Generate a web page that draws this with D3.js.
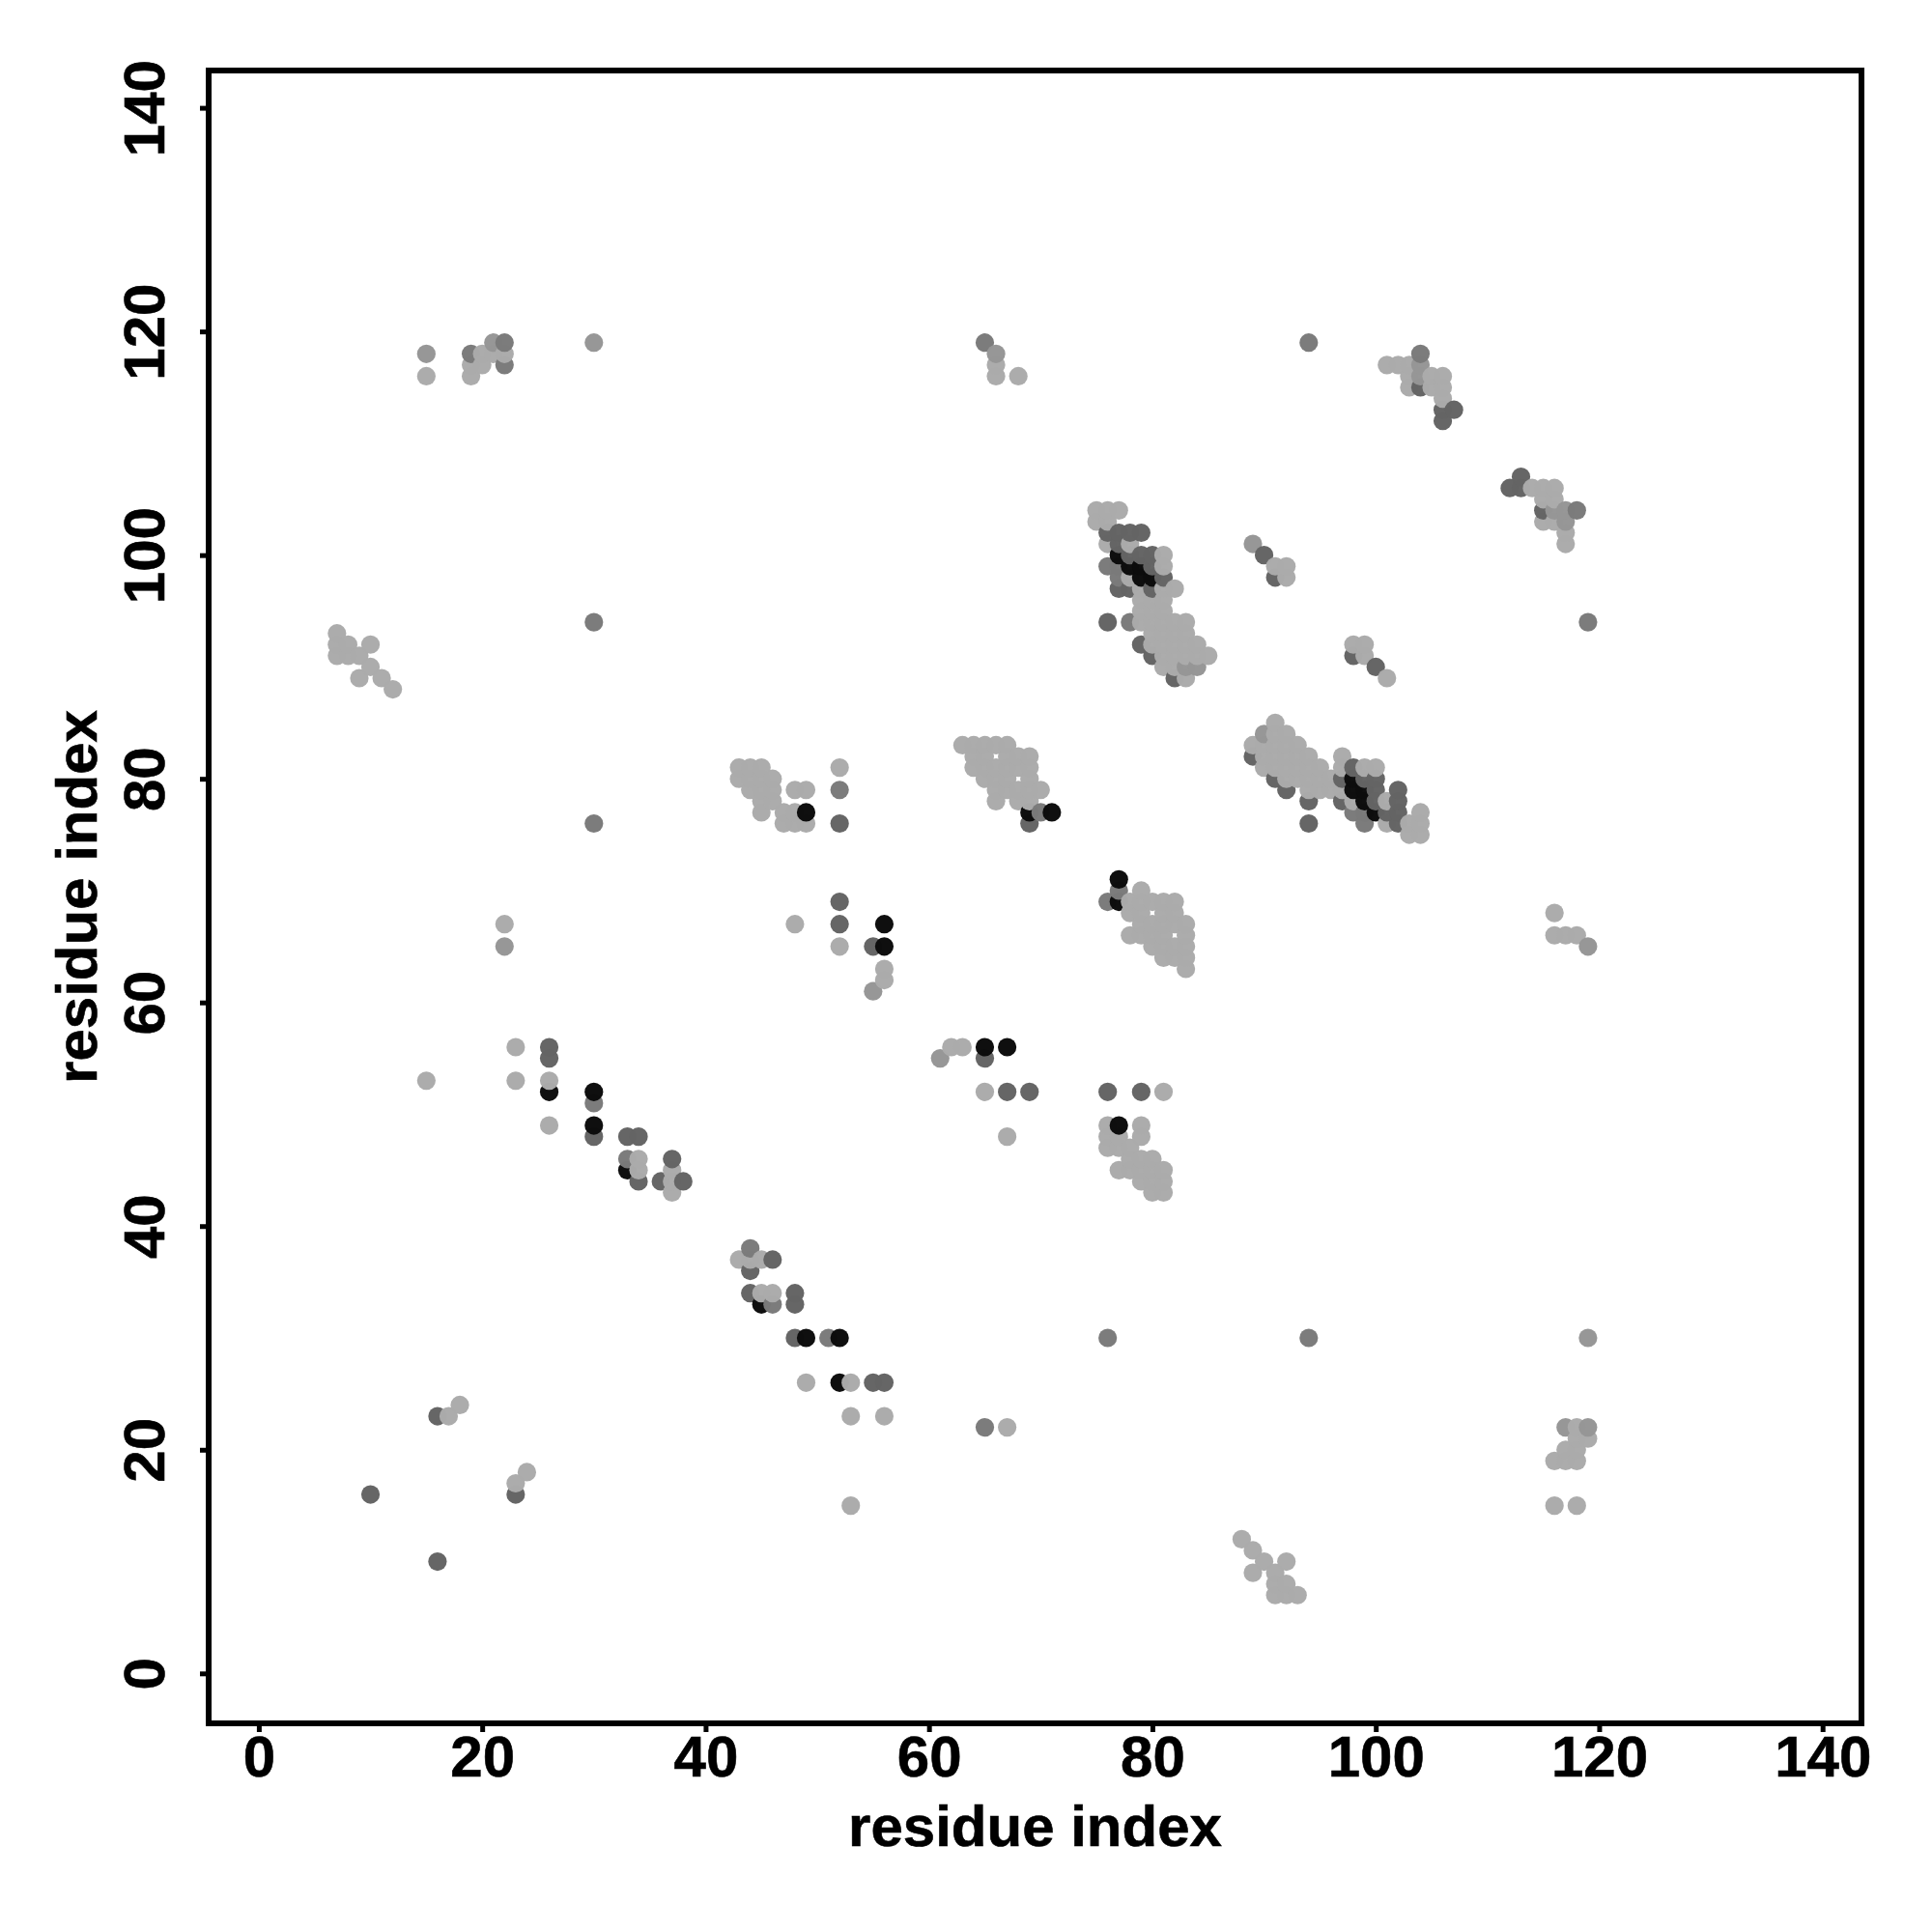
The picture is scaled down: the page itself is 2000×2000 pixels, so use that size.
<!DOCTYPE html>
<html><head><meta charset="utf-8">
<script src="https://cdn.jsdelivr.net/npm/d3@7/dist/d3.min.js"></script>
<style>html,body{margin:0;padding:0;background:#fff}svg{display:block}text{font-family:"Liberation Sans",Arial,sans-serif;font-weight:700;fill:#000;stroke:#000;stroke-width:0.6px}</style>
</head><body><script>
const tickLabels = [0, 20, 40, 60, 80, 100, 120, 140];
const axisTitle = "residue index";
const shades = { light: "#ababab", midLight: "#969696", mid: "#7a7a7a", dark: "#646464", black: "#0c0c0c" };

const lightContacts = [
 [17,23],[18,24],[23,17],[24,18],[53,15],[67,22],[116,15],[118,15],[116,19],[117,19],[118,19],[118,20],[117,20],[118,22],[118,21],[119,21],
 [88,12],[89,11],[90,10],[92,10],[89,9],[91,9],[92,8],[91,8],[91,7],[92,7],[93,7],
 [43,37],[44,37],[45,37],[45,34],[46,34],[49,26],[53,26],[53,23],[56,23],
 [26,53],[26,49],[34,46],[34,45],[37,45],[37,44],[37,43],
 [22,67],[23,56],[23,53],[15,53],[15,116],[19,117],[20,118],[20,117],[21,118],[22,118],[19,116],
 [7,93],[7,92],[7,91],[8,92],[8,91],[9,91],[10,92],[10,90],[9,89],[11,89],[12,88],
 [43,81],[44,81],[45,81],[43,80],[44,80],[45,80],[46,80],[44,79],[45,79],[46,79],[48,79],[49,79],[45,78],[46,78],[45,77],[47,77],[48,77],[47,76],[48,76],[49,76],[52,81],
 [63,83],[64,83],[65,83],[66,83],[67,83],[64,82],[65,82],[67,82],[68,82],[69,82],[64,81],[65,81],[66,81],[67,81],[68,81],[69,81],[65,80],[66,80],[67,80],[69,80],[66,79],[67,79],[68,79],[69,79],[70,79],[66,78],[68,78],[69,78],
 [79,70],[78,69],[79,69],[80,69],[81,69],[82,69],[78,68],[79,68],[81,68],[82,68],[79,67],[80,67],[81,67],[82,67],[83,67],[78,66],[79,66],[80,66],[81,66],[83,66],[80,65],[81,65],[82,65],[83,65],[81,64],[82,64],[83,64],[83,63],
 [76,49],[76,48],[77,48],[76,47],[77,47],[78,47],[79,49],[79,48],[78,46],[79,46],[80,46],[77,45],[78,45],[79,45],[80,45],[81,45],[79,44],[80,44],[81,44],[80,43],[81,43],
 [65,52],[81,52],[62,56],[63,56],[67,48],[48,67],[52,65],[56,63],[56,62],[116,68],[116,66],[117,66],[118,66],
 [66,117],[66,116],[68,116],[101,117],[102,117],[103,117],[103,116],[105,116],[106,116],[103,115],[105,115],[106,115],[106,114],
 [114,106],[115,106],[116,106],[115,105],[116,105],[115,103],[116,103],[117,102],[117,101],
 [75,104],[76,104],[77,104],[75,103],[76,103],[76,101],[78,101],[81,100],[81,99],[78,98],[79,97],[81,97],[82,97],[79,96],[80,96],[81,96],[79,95],[80,95],[81,95],[79,94],[80,94],[81,94],[82,94],[83,94],[80,93],[81,93],[82,93],[83,93],[80,92],[81,92],[82,92],[83,92],[84,92],[81,91],[82,91],[83,91],[84,91],[85,91],[81,90],[82,90],[83,89],
 [91,85],[91,84],[92,84],[89,83],[90,83],[91,83],[92,83],[93,83],[90,82],[91,82],[92,82],[93,82],[94,82],[97,82],[90,81],[91,81],[92,81],[93,81],[94,81],[95,81],[97,81],[99,81],[100,81],[92,80],[93,80],[94,80],[95,80],[96,80],[94,79],[95,79],[96,79],[97,79],[98,78],[101,78],[104,77],[101,76],[103,76],[104,76],[103,75],[104,75],
 [91,99],[92,99],[92,98],[98,92],[99,92],[99,91],[101,89]
];
const midLightContacts = [
 [119,30],[117,22],[119,22],[15,118],[30,119],[61,55],[22,65],[55,61],[66,118],[119,65],[89,101],[90,84],[83,90],[84,90],[116,104],[117,104],[117,103],[104,117],[104,116],[21,119]
];
const midContacts = [
 [76,30],[94,30],[65,22],[33,46],[44,38],[51,30],[30,51],[46,33],[19,118],[22,117],[22,119],[30,94],[30,76],[94,119],[65,119],[118,104],[104,118],
 [76,99],[77,99],[77,98],[78,94],[98,77],[99,77],[99,76],[52,79],[119,94],[70,77],[77,70],[76,69]
];
const darkContacts = [
 [10,16],[16,10],[16,23],[23,16],[44,36],[44,34],[46,37],[48,34],[48,33],[48,30],[55,26],[56,26],
 [26,56],[26,55],[30,48],[33,48],[34,48],[34,44],[37,46],[36,44],[38,44],
 [52,76],[69,76],[52,69],[52,67],[55,65],[76,52],[79,52],[67,52],[69,52],[65,55],
 [104,115],[106,113],[107,113],[106,112],[113,107],[112,106],[113,106],[115,104],
 [76,102],[77,102],[78,102],[79,102],[77,101],[78,100],[79,100],[80,100],[80,99],[81,98],[77,97],[78,97],[80,97],[76,94],[79,92],[80,91],[82,89],
 [89,82],[98,81],[91,80],[97,80],[99,80],[100,80],[92,79],[100,79],[102,79],[94,78],[97,78],[100,78],[102,78],[101,77],[102,77],[94,76],[102,76],
 [90,100],[91,98],[98,91],[100,90]
];
const blackContacts = [
 [45,33],[49,30],[52,30],[52,26],[26,52],[30,52],[30,49],[33,45],[49,77],[69,77],[71,77],[56,67],[56,65],[65,56],[67,56],[77,71],[77,69],[77,49],
 [77,100],[78,99],[79,99],[79,98],[80,98],[98,80],[98,79],[99,79],[99,78],[100,77]
];

const contacts = [
 ...lightContacts.map(d => ({x:d[0], y:d[1], fill:shades.light})),
 ...midLightContacts.map(d => ({x:d[0], y:d[1], fill:shades.midLight})),
 ...midContacts.map(d => ({x:d[0], y:d[1], fill:shades.mid})),
 ...darkContacts.map(d => ({x:d[0], y:d[1], fill:shades.dark})),
 ...blackContacts.map(d => ({x:d[0], y:d[1], fill:shades.black}))
].sort((a,b) => d3.ascending(a.x,b.x) || d3.ascending(a.y,b.y));

const box = {left:216, right:1927, top:73, bottom:1784};
const xScale = d3.scaleLinear().domain([0,140]).range([267.9,1886.7]);
const yScale = d3.scaleLinear().domain([0,140]).range([1732.3,111.6]);

const svg = d3.select("body").append("svg").attr("width",2000).attr("height",2000);
svg.append("rect").attr("width",2000).attr("height",2000).attr("fill","#fff");

svg.append("g").selectAll("circle").data(contacts).join("circle")
  .attr("cx",d=>xScale(d.x)).attr("cy",d=>yScale(d.y)).attr("r",9.6).attr("fill",d=>d.fill).attr("fill-opacity",0.99);

svg.append("rect").attr("x",box.left).attr("y",box.top)
  .attr("width",box.right-box.left).attr("height",box.bottom-box.top)
  .attr("fill","none").attr("stroke","#000").attr("stroke-width",6);

const gx = svg.append("g").attr("transform",`translate(0,${box.bottom})`)
  .call(d3.axisBottom(xScale).tickValues(tickLabels).tickSize(9).tickPadding(0));
gx.select(".domain").remove();
gx.selectAll("line").attr("stroke","#000").attr("stroke-width",5);
gx.selectAll("text").attr("font-size",60).attr("y",0).attr("dy",0).attr("transform","translate(0,55)");

const gy = svg.append("g").attr("transform",`translate(${box.left},0)`)
  .call(d3.axisLeft(yScale).tickValues(tickLabels).tickSize(9).tickPadding(0));
gy.select(".domain").remove();
gy.selectAll("line").attr("stroke","#000").attr("stroke-width",5);
gy.selectAll("text").attr("font-size",60).attr("x",0).attr("dy",0).attr("text-anchor","middle")
  .attr("transform","translate(-46,0) rotate(-90)");

svg.append("text").attr("x",(box.left+box.right)/2).attr("y",1911).attr("text-anchor","middle").attr("font-size",60).text(axisTitle);
svg.append("text").attr("transform",`translate(99.5,${(box.top+box.bottom)/2}) rotate(-90)`).attr("text-anchor","middle").attr("font-size",60).text(axisTitle);
</script></body></html>
